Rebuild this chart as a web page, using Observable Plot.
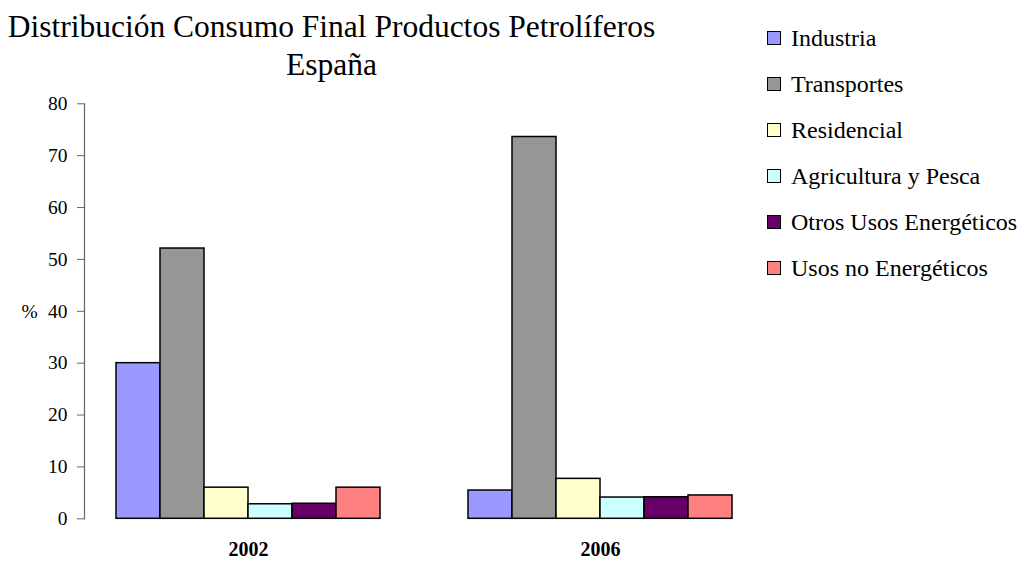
<!DOCTYPE html>
<html><head><meta charset="utf-8">
<script src="https://cdn.jsdelivr.net/npm/d3@7"></script>
<script src="https://cdn.jsdelivr.net/npm/@observablehq/plot@0.6"></script>
<style>
body{margin:0;background:#fff;}
#wrap{position:relative;width:1025px;height:563px;font-family:"Liberation Serif","Times New Roman",serif;color:#000;}
#chart{position:absolute;left:0;top:0;}
#title{position:absolute;left:0;width:663px;top:8px;text-align:center;font-size:31.5px;line-height:38px;white-space:nowrap;}
#legend{position:absolute;left:767px;top:15px;}
.row{height:46px;display:flex;align-items:center;font-size:24px;white-space:nowrap;}
.sw{width:12px;height:12px;border:1.5px solid #000;margin-right:10px;flex:none;}
</style></head><body>
<div id="wrap"><div id="chart"></div>
<div id="title">Distribución Consumo Final Productos Petrolíferos<br>España</div>
<div id="legend"></div></div>
<script>
const years = ["2002", "2006"];
const series = ["Industria", "Transportes", "Residencial", "Agricultura y Pesca", "Otros Usos Energéticos", "Usos no Energéticos"];
const values2002 = [30.0, 52.1, 6.0, 2.8, 2.9, 6.0];
const values2006 = [5.45, 73.6, 7.7, 4.1, 4.15, 4.5];
const colors = ["#9999FF", "#969696", "#FFFFCC", "#CCFFFF", "#660066", "#FF8080"];
const yTicks = [0, 10, 20, 30, 40, 50, 60, 70, 80];
const yLabel = "%";

const valuesByYear = {"2002": values2002, "2006": values2006};
const key = (y, s) => y + "|" + s;
const data = years.flatMap(y => series.map((s, i) => ({year: y, series: s, value: valuesByYear[y][i], k: key(y, s)})));
const xDomain = [...series.map(s => key(years[0], s)), "gap1", "gap2", ...series.map(s => key(years[1], s))];
const xRange = [115.7, 731.7];
const bw = (xRange[1] - xRange[0]) / xDomain.length;

const chart = Plot.plot({
  width: 1025, height: 563,
  marginLeft: 84, marginTop: 103.3, marginBottom: 44.7, marginRight: 240,
  style: {fontFamily: '"Liberation Serif","Times New Roman",serif', background: "transparent"},
  x: {domain: xDomain, range: xRange, padding: 0, axis: null},
  y: {domain: [0, 80], axis: null},
  color: {domain: series, range: colors},
  marks: [
    Plot.frame({anchor: "left", stroke: "#666", strokeWidth: 1.2}),
    Plot.axisY({ticks: yTicks, tickSize: 7, tickPadding: 10, fontSize: 19.5, stroke: "#666", fill: "#000", label: null, tickFormat: d => String(d)}),
    Plot.text([yLabel], {frameAnchor: "left", dx: -63, fontSize: 19.5, fill: "#000"}),
    Plot.barY(data, {x: "k", y: "value", fill: "series", stroke: "#000", strokeWidth: 1.5, inset: 0}),
    Plot.text(years, {x: d => key(d, series[2]), dx: bw / 2, frameAnchor: "bottom", dy: 37, fontSize: 20, fontWeight: "bold", fill: "#000"})
  ]
});
document.getElementById("chart").appendChild(chart);

const legend = document.getElementById("legend");
series.forEach((s, i) => {
  const row = document.createElement("div");
  row.className = "row";
  const sw = document.createElement("span");
  sw.className = "sw";
  sw.style.background = colors[i];
  row.appendChild(sw);
  row.appendChild(document.createTextNode(s));
  legend.appendChild(row);
});
</script>
</body></html>
